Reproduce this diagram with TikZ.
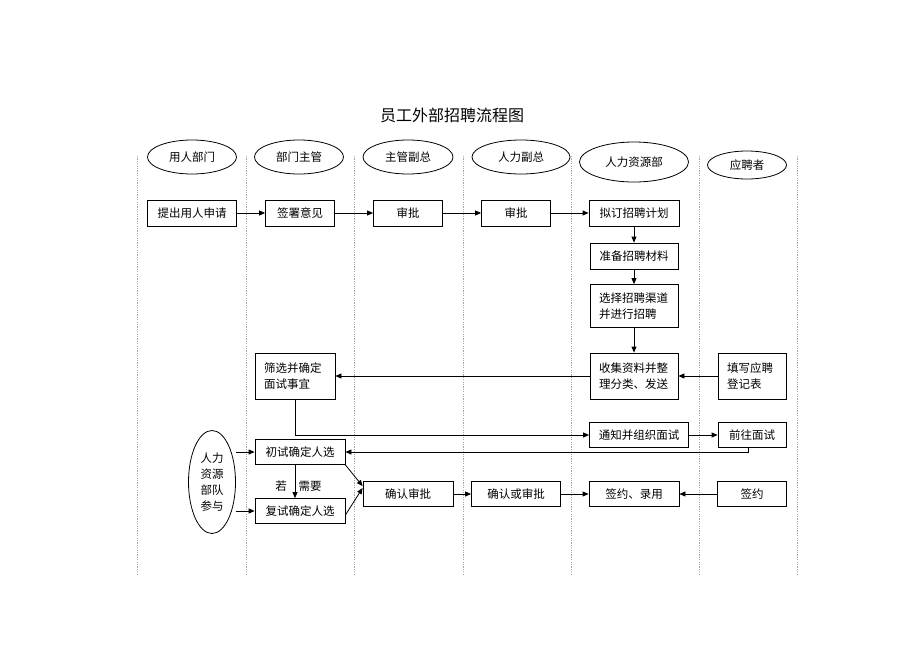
\documentclass[tikz,border=0pt]{standalone}
\usepackage{fontspec}
\setmainfont{Noto Sans CJK SC}
\usetikzlibrary{arrows.meta,shapes.geometric,calc}
\begin{document}
\begin{tikzpicture}[x=1pt,y=-1pt,
  txt/.style={font=\fontsize{11.5}{16}\selectfont},
  box/.style={draw, line width=0.8pt, inner sep=0pt, txt, minimum height=26pt},
  tbox/.style={draw, line width=0.8pt, inner xsep=9pt, inner ysep=0pt, txt, align=left, minimum height=46pt},
  head/.style={draw, ellipse, line width=0.8pt, inner sep=0pt, txt},
  arr/.style={line width=0.8pt, -{Triangle[length=6pt,width=5pt]}},
  lane/.style={gray!70, line width=0.5pt, dash pattern=on 1.2pt off 1.2pt}]
\useasboundingbox (0,0) rectangle (920,651);

% title
\node[font=\fontsize{16}{18}\selectfont] (title) at (452,115) {员工外部招聘流程图};

% lane separators
\foreach \x in {137,246,354,463,571,699,797}
  \draw[lane] (\x,156) -- (\x,575);

% headers
\node[head, minimum width=89pt, minimum height=34pt] (h1) at (192,157) {用人部门};
\node[head, minimum width=89pt, minimum height=34pt] (h2) at (299,157) {部门主管};
\node[head, minimum width=90pt, minimum height=34pt] (h3) at (408,157) {主管副总};
\node[head, minimum width=98pt, minimum height=34pt] (h4) at (521,157) {人力副总};
\node[head, minimum width=109pt, minimum height=40pt] (h5) at (634,162) {人力资源部};
\node[head, minimum width=79pt, minimum height=28pt] (h6) at (747,165) {应聘者};

% row 1
\node[box, minimum width=89pt] (apply) at (192,213) {提出用人申请};
\node[box, minimum width=69pt] (sign) at (300,213) {签署意见};
\node[box, minimum width=69pt] (appr1) at (408,213) {审批};
\node[box, minimum width=69pt] (appr2) at (516,213) {审批};
\node[box, minimum width=90pt] (plan) at (634,213) {拟订招聘计划};

% HR column
\node[box, minimum width=88pt] (prep) at (634,256) {准备招聘材料};
\node[tbox, text width=70pt, minimum height=43pt] (chan) at (634,306) {选择招聘渠道\\并进行招聘};
\node[tbox, text width=70pt] (collect) at (634,376) {收集资料并整\\理分类、发送};
\node[tbox, text width=62pt] (screen) at (295,376) {筛选并确定\\面试事宜};
\node[tbox, text width=50pt] (fill) at (752,376) {填写应聘\\登记表};

\node[box, minimum width=99pt, minimum height=25pt] (notify) at (639,435) {通知并组织面试};
\node[box, minimum width=68pt, minimum height=25pt] (goto) at (752,435) {前往面试};

\node[box, minimum width=90pt, minimum height=25pt] (first) at (300,452) {初试确定人选};
\node[box, minimum width=90pt, minimum height=25pt] (second) at (300,511) {复试确定人选};
\node[draw, ellipse, line width=0.8pt, minimum width=47pt, minimum height=103pt, inner sep=0pt, txt, align=center] (hr) at (212,482) {人力\\资源\\部队\\参与};

\node[box, minimum width=90pt, minimum height=25pt] (conf) at (408,494) {确认审批};
\node[box, minimum width=89pt, minimum height=25pt] (conf2) at (516,494) {确认或审批};
\node[box, minimum width=90pt, minimum height=25pt] (hire) at (634,494) {签约、录用};
\node[box, minimum width=69pt, minimum height=25pt] (contract) at (752,494) {签约};

\node[txt] (ruo) at (281,486) {若};
\node[txt] (need) at (310,486) {需要};

% connectors
\draw[arr] (apply) -- (sign);
\draw[arr] (sign) -- (appr1);
\draw[arr] (appr1) -- (appr2);
\draw[arr] (appr2) -- (plan);
\draw[arr] (plan) -- (prep);
\draw[arr] (prep) -- (chan);
\draw[arr] (chan) -- (collect);
\draw[arr] (fill) -- (collect);
\draw[arr] (collect) -- (screen);
\draw[arr] (screen.south) |- (notify.west);
\draw[arr] (notify) -- (goto);
\draw[arr] ([xshift=-4pt]goto.south) |- (first.east);
\draw[arr] ([xshift=-5pt]first.south) -- ([xshift=-5pt]second.north);
\draw[arr] (hr.east |- first.west) -- (first.west);
\draw[arr] (hr.east |- second.west) -- (second.west);
\draw[arr] (first.south east) -- ($(conf.north west)+(0,5)$);
\draw[arr] ($(second.east)+(0,4)$) -- ($(conf.west)+(0,-6)$);
\draw[arr] (conf) -- (conf2);
\draw[arr] (conf2) -- (hire);
\draw[arr] (contract) -- (hire);
\end{tikzpicture}
\end{document}
